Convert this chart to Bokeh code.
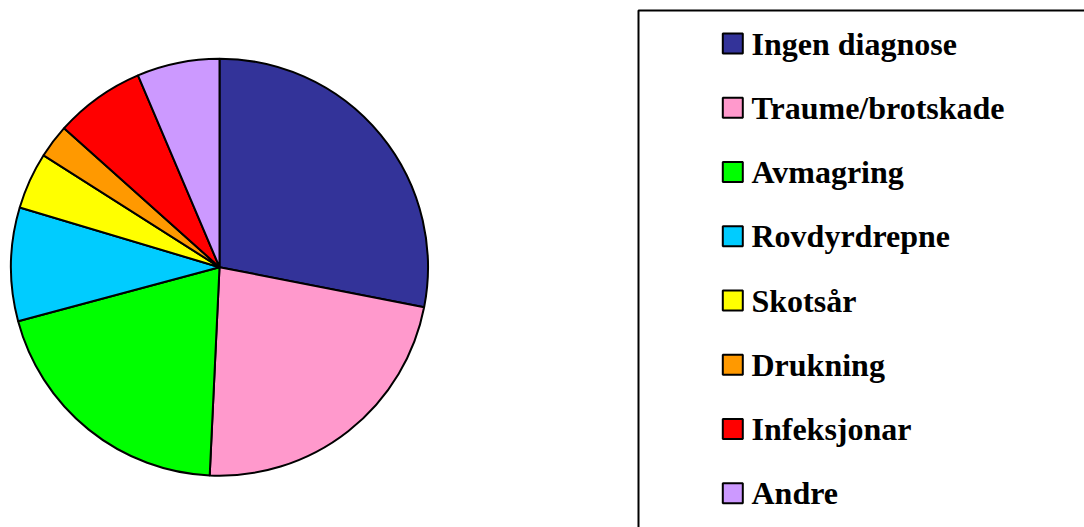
import numpy as np
from bokeh.plotting import figure
from bokeh.models import Range1d, ColumnDataSource
from bokeh.core.properties import value
from bokeh.embed import file_html
from bokeh.resources import INLINE

categories = ["Ingen diagnose", "Traume/brotskade", "Avmagring", "Rovdyrdrepne",
              "Skotsår", "Drukning", "Infeksjonar", "Andre"]
shares = [28.1, 22.7, 20.1, 8.8, 4.4, 2.6, 7.0, 6.4]
colors = ["#333399", "#FF99CC", "#00FF00", "#00CCFF",
          "#FFFF00", "#FF9900", "#FF0000", "#CC99FF"]

W, H = 1084, 527
p = figure(width=W, height=H, output_backend="svg", toolbar_location=None,
           x_range=Range1d(0, W), y_range=Range1d(0, H), min_border=0,
           outline_line_color=None)
p.axis.visible = False
p.grid.visible = False

def px(x):
    return x

def py(y):
    return H - y

vals = np.array(shares, dtype=float)
frac = vals / vals.sum()
cum = np.concatenate([[0], np.cumsum(frac)])
start = np.pi / 2 - 2 * np.pi * cum[:-1]
end = np.pi / 2 - 2 * np.pi * cum[1:]

src = ColumnDataSource(dict(start=start, end=end, color=colors, cat=categories))
p.wedge(x=px(219), y=py(266.7), radius=208.5, radius_units="screen",
        start_angle="start", end_angle="end", direction="clock",
        fill_color="color", line_color="black", line_width=2, source=src)

# legend box
p.quad(left=px(638), right=px(1120), top=py(10), bottom=py(560),
       fill_color=None, line_color="black", line_width=2)

n = len(categories)
ys = [43 + i * 64.25 for i in range(n)]
lsrc = ColumnDataSource(dict(
    x=[px(732.3)] * n, y=[py(v) for v in ys],
    tx=[px(751)] * n, ty=[py(v) for v in ys],
    color=colors, cat=categories))
p.rect(x="x", y="y", width=20, height=20, width_units="screen", height_units="screen",
       fill_color="color", line_color="black", line_width=2, source=lsrc)
p.text(x="tx", y="ty", text="cat", text_font=value("Liberation Serif"),
       text_font_style="bold", text_font_size="32px", text_color="black",
       text_baseline="middle", text_align="left", source=lsrc)

open("out.html", "w").write(file_html(p, INLINE))
